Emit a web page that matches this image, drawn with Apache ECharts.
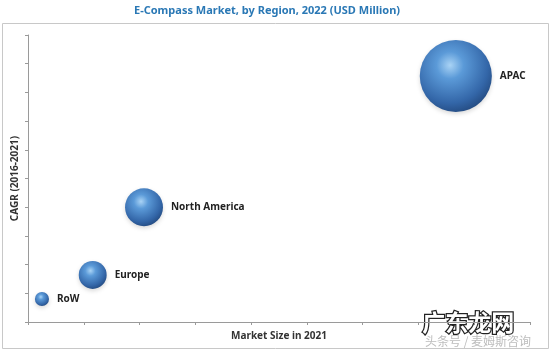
<!DOCTYPE html>
<html lang="en">
<head>
    <meta charset="UTF-8">
    <title>E-Compass Market</title>
    <script src="https://cdn.jsdelivr.net/npm/echarts@6/dist/echarts.min.js"></script>
</head>
<body style="margin:0;background:#fff;">
<div id="container" style="width:552px;height:353px;"></div>
<script>
    // regions and their bubble data
    var regions = ['APAC', 'North America', 'Europe', 'RoW'];
    var marketSize = [7.67, 2.08, 1.16, 0.25];   // x, market size in 2021
    var cagr = [8.57, 4.0, 1.64, 0.8];            // y, CAGR 2016-2021
    var market2022 = [1300, 360, 195, 50];        // bubble value, 2022

    var data = [];
    for (var i = 0; i < regions.length; i++) {
        data.push({name: regions[i], value: [marketSize[i], cagr[i], market2022[i]]});
    }

    var dom = document.getElementById('container');
    var myChart = echarts.init(dom);

    var axisCommon = {
        min: 0,
        interval: 1,
        nameLocation: 'middle',
        nameTextStyle: {
            color: '#333',
            fontSize: 10,
            fontWeight: 'bold',
            fontFamily: 'Noto Sans, sans-serif'
        },
        axisLine: {show: true, lineStyle: {color: '#9a9a9a', width: 1}},
        axisTick: {show: true, length: 3, lineStyle: {color: '#9a9a9a'}},
        axisLabel: {show: false},
        splitLine: {show: false}
    };

    var option = {
        backgroundColor: '#fff',
        animation: false,
        title: {
            text: 'E-Compass Market, by Region, 2022 (USD Million)',
            left: 129,
            top: 0,
            textStyle: {
                color: '#2a78b5',
                fontSize: 11,
                fontWeight: 'bold',
                fontFamily: 'Noto Sans, sans-serif'
            }
        },
        grid: {left: 28, right: 22, top: 35, bottom: 31},
        graphic: [
            {
                type: 'rect',
                shape: {x: 2.5, y: 23.5, width: 546, height: 325},
                style: {fill: 'none', stroke: '#c8c8c8', lineWidth: 1},
                silent: true,
                z: -1
            },
            {
                type: 'text',
                left: 421,
                top: 310,
                style: {
                    text: '广东龙网',
                    font: 'bold 23px "Noto Sans CJK SC"',
                    fill: '#fff',
                    stroke: '#222',
                    lineWidth: 2.5
                }
            },
            {
                type: 'text',
                left: 425,
                top: 335,
                style: {
                    text: '头条号 / 麦姆斯咨询',
                    font: '12px "Noto Sans CJK SC"',
                    fill: '#bdbdbd'
                }
            }
        ],
        xAxis: Object.assign({}, axisCommon, {
            type: 'value',
            max: 9,
            name: 'Market Size in 2021',
            nameGap: 9
        }),
        yAxis: Object.assign({}, axisCommon, {
            type: 'value',
            max: 10,
            name: 'CAGR (2016-2021)',
            nameGap: 8
        }),
        series: [{
            type: 'scatter',
            data: data,
            symbolSize: function (val) {
                return Math.sqrt(val[2]) * 2;
            },
            label: {
                show: true,
                position: 'right',
                distance: 8,
                formatter: '{b}',
                color: '#222',
                fontSize: 10,
                fontWeight: 'bold',
                fontFamily: 'Noto Sans, sans-serif'
            },
            itemStyle: {
                opacity: 1,
                shadowBlur: 4,
                shadowColor: 'rgba(0,0,0,0.15)',
                shadowOffsetY: 2,
                color: new echarts.graphic.RadialGradient(0.42, 0.35, 0.75, [
                    {offset: 0, color: '#a9d3f5'},
                    {offset: 0.25, color: '#5b9ad8'},
                    {offset: 0.7, color: '#3366a8'},
                    {offset: 1, color: '#1d3f70'}
                ])
            }
        }]
    };

    myChart.setOption(option);
</script>
</body>
</html>
